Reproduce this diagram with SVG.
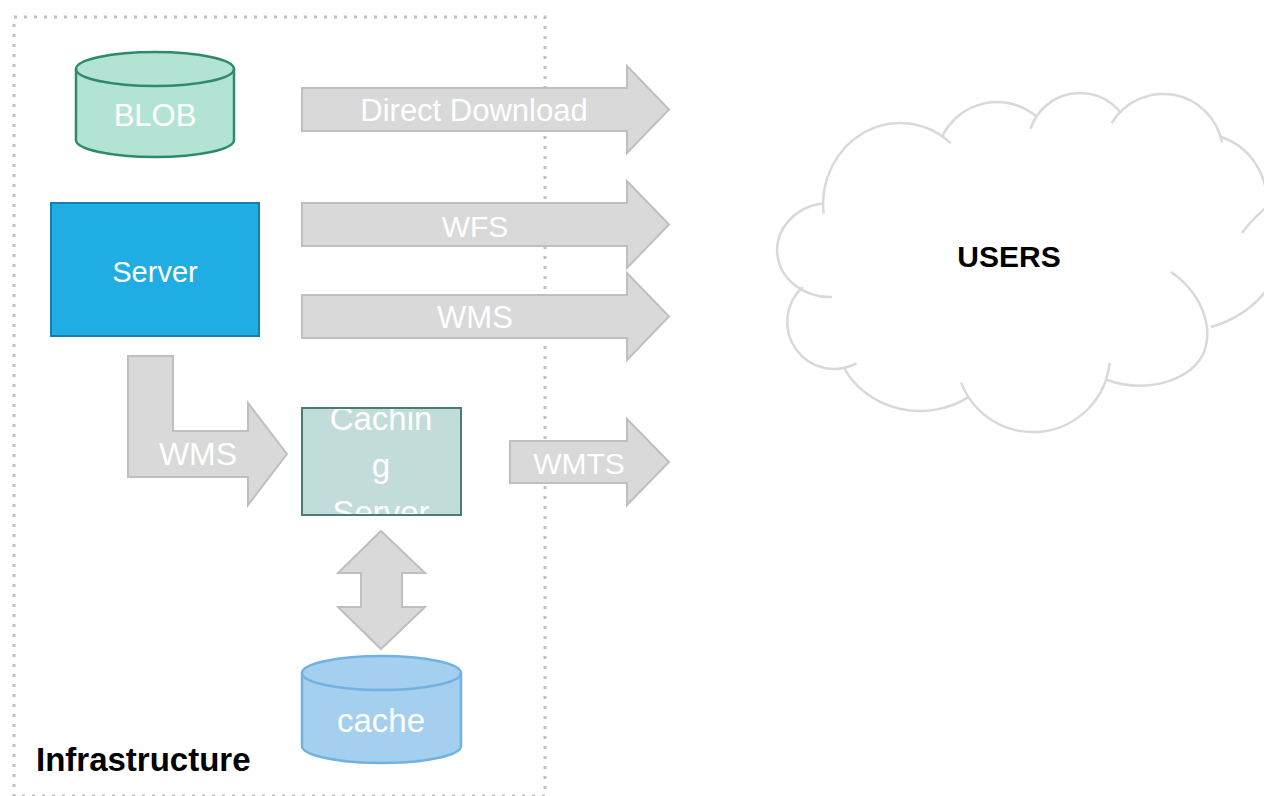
<svg xmlns="http://www.w3.org/2000/svg" width="1264" height="796" viewBox="0 0 1264 796">
  <style>
    .lbl { font-family: 'Liberation Sans', Arial, sans-serif; fill: #ffffff; text-anchor: middle; }
    .arrow { fill: #d9d9d9; stroke: #bfbfbf; stroke-width: 2; stroke-linejoin: miter; }
    .cloud { fill: none; stroke: #d9d9d9; stroke-width: 2.5; stroke-linecap: butt; }
    .bold { font-family: 'Liberation Sans', Arial, sans-serif; font-weight: bold; fill: #000000; }
  </style>
  <defs>
    <clipPath id="cacheClip">
      <rect x="303" y="409" width="157" height="105"/>
    </clipPath>
  </defs>
  <rect width="1264" height="796" fill="#ffffff"/>

  <g id="infrastructure">
    <rect x="14" y="17" width="531" height="779" fill="none" stroke="#bfbfbf" stroke-width="3" stroke-dasharray="3 7"/>
    <text class="bold" x="36" y="771" font-size="33">Infrastructure</text>
  </g>

  <g id="users">
    <path class="cloud" d="M831.9,297 A53,47 0 0 1 822.6,203.5"/>
    <path class="cloud" d="M823.4,213.6 A77,82 0 0 1 950.5,143.1"/>
    <path class="cloud" d="M942.2,136.3 A61,61 0 0 1 1036.2,116.3"/>
    <path class="cloud" d="M1030.5,128.9 A52,52 0 0 1 1121,113"/>
    <path class="cloud" d="M1111.6,123.1 A60,60 0 0 1 1222,142.6"/>
    <path class="cloud" d="M1220.5,136.8 A66.5,66.5 0 0 1 1266.2,205.8"/>
    <path class="cloud" d="M1242,233 Q1252,219 1268,206"/>
    <path class="cloud" d="M1268,288 Q1248,316 1211,327"/>
    <path class="cloud" d="M1171,272 C1200,292 1214,325 1204,352 C1194,378 1150,395 1107,380"/>
    <path class="cloud" d="M1109.6,363 A77,77 0 0 1 961.1,382.6"/>
    <path class="cloud" d="M968.8,396.9 A85,78 0 0 1 844.3,368.4"/>
    <path class="cloud" d="M856.8,363.1 A47,47 0 0 1 802.6,287.1"/>
    <text class="bold" x="1009" y="267" font-size="30" text-anchor="middle">USERS</text>
  </g>

  <g id="blob">
    <path d="M76,69 A79,17 0 0 1 234,69 L234,140 A79,17 0 0 1 76,140 Z" fill="#b3e3d5" stroke="#2f8a6c" stroke-width="2.5"/>
    <path d="M76,69 A79,17 0 0 0 234,69" fill="none" stroke="#2f8a6c" stroke-width="2.5"/>
    <text class="lbl" x="155" y="126" font-size="31">BLOB</text>
  </g>

  <g id="server">
    <rect x="51" y="203" width="208" height="133" fill="#1fade3" stroke="#1780aa" stroke-width="2"/>
    <text class="lbl" x="155" y="282" font-size="29">Server</text>
  </g>

  <g id="caching-server">
    <rect x="302" y="408" width="159" height="107" fill="#c2dcda"/>
    <g clip-path="url(#cacheClip)">
      <text class="lbl" x="381" y="430" font-size="33">Cachin</text>
      <text class="lbl" x="381" y="477" font-size="33">g</text>
      <text class="lbl" x="381" y="524" font-size="33">Server</text>
    </g>
    <rect x="302" y="408" width="159" height="107" fill="none" stroke="#4a7c78" stroke-width="2"/>
  </g>

  <g id="cache">
    <path d="M302,673 A79.5,17 0 0 1 461,673 L461,746 A79.5,17 0 0 1 302,746 Z" fill="#a4cfee" stroke="#70b3e2" stroke-width="2.5"/>
    <path d="M302,673 A79.5,17 0 0 0 461,673" fill="none" stroke="#70b3e2" stroke-width="2.5"/>
    <text class="lbl" x="381" y="732" font-size="33">cache</text>
  </g>

  <g id="connectors">
    <g id="arrow-direct-download">
      <polygon class="arrow" points="302,88 627,88 627,66 669,109.5 627,153 627,131 302,131"/>
      <text class="lbl" x="474" y="121" font-size="31">Direct Download</text>
    </g>
    <g id="arrow-wfs">
      <polygon class="arrow" points="302,203 627,203 627,181 669,224.5 627,268 627,246 302,246"/>
      <text class="lbl" x="475" y="237" font-size="30">WFS</text>
    </g>
    <g id="arrow-wms">
      <polygon class="arrow" points="302,295 627,295 627,273 669,316.5 627,360 627,338 302,338"/>
      <text class="lbl" x="475" y="328" font-size="31">WMS</text>
    </g>
    <g id="arrow-wms-cache">
      <polygon class="arrow" points="128,356 173,356 173,431 248,431 248,403 287,454 248,505 248,477 128,477"/>
      <text class="lbl" x="198" y="465" font-size="32">WMS</text>
    </g>
    <g id="arrow-wmts">
      <polygon class="arrow" points="510,441 627,441 627,419 669,462 627,505 627,483 510,483"/>
      <text class="lbl" x="579" y="474" font-size="30">WMTS</text>
    </g>
    <g id="arrow-cache-link">
      <polygon class="arrow" points="381,531 425,573 402,573 402,607 425,607 381,649 338,607 361,607 361,573 338,573"/>
    </g>
  </g>
</svg>
